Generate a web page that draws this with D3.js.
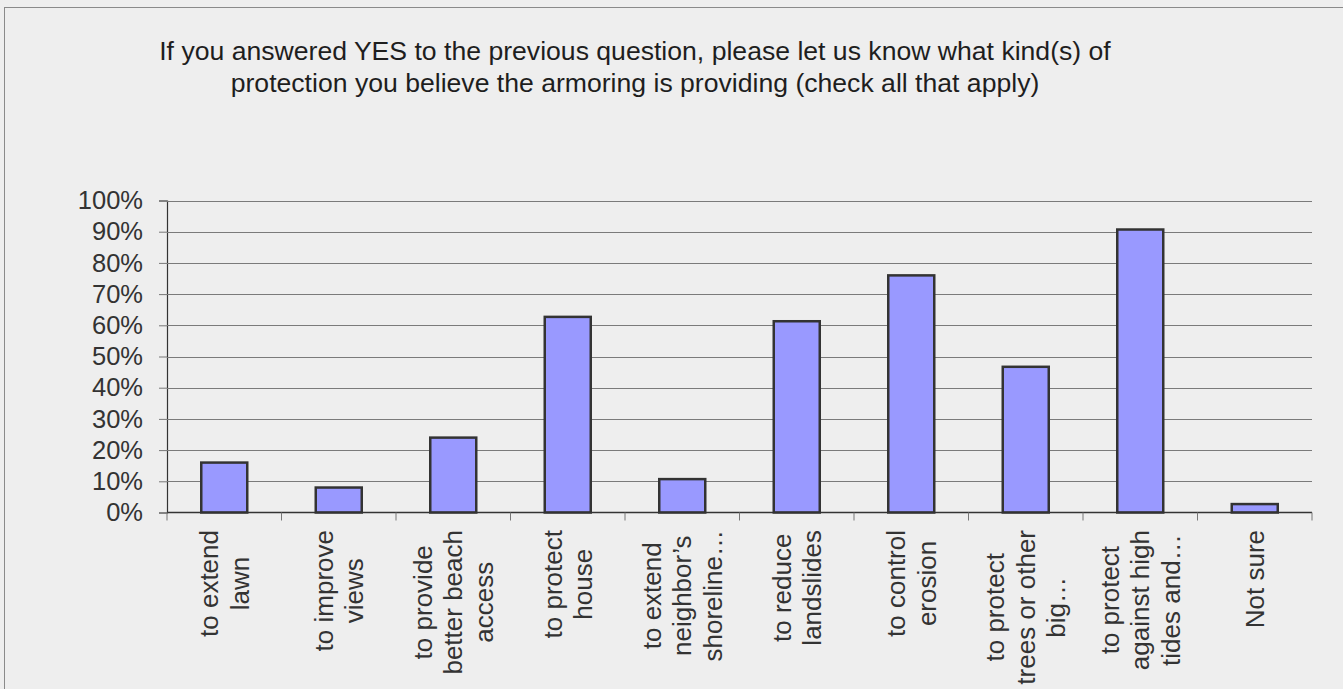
<!DOCTYPE html>
<html>
<head>
<meta charset="utf-8">
<script src="https://cdn.jsdelivr.net/npm/d3@7"></script>
<style>
  html, body { margin: 0; padding: 0; background: #eeeeee; }
  svg { display: block; font-family: "Liberation Sans", Arial, sans-serif; }
</style>
</head>
<body>
<svg id="chart" width="1343" height="689"></svg>
<script>
// Survey responses: share of respondents choosing each kind of protection
const categories = [
  ["to extend", "lawn"],
  ["to improve", "views"],
  ["to provide", "better beach", "access"],
  ["to protect", "house"],
  ["to extend", "neighbor\u2019s", "shoreline\u2026"],
  ["to reduce", "landslides"],
  ["to control", "erosion"],
  ["to protect", "trees or other", "big\u2026"],
  ["to protect", "against high", "tides and\u2026"],
  ["Not sure"]
];
const percentages = [16.0, 8.0, 24.0, 62.7, 10.7, 61.3, 76.0, 46.7, 90.7, 2.7];
const yTicks = [0, 10, 20, 30, 40, 50, 60, 70, 80, 90, 100];
const titleLines = [
  "If you answered YES to the previous question, please let us know what kind(s) of",
  "protection you believe the armoring is providing (check all that apply)"
];

const svg = d3.select("#chart");
const W = 1343, H = 689;

// Frame
svg.append("rect")
  .attr("x", 4.5).attr("y", 7.5)
  .attr("width", W + 10).attr("height", H + 10)
  .attr("fill", "#eeeeee").attr("stroke", "#8a8a8a").attr("stroke-width", 1);

const plot = { left: 167, right: 1312, top: 200.5, bottom: 512.5 };

const x = d3.scaleBand()
  .domain(d3.range(categories.length))
  .range([plot.left, plot.right])
  .paddingInner(0).paddingOuter(0);

const y = d3.scaleLinear()
  .domain([0, 100])
  .range([plot.bottom, plot.top]);

// Title
svg.append("g")
  .selectAll("text")
  .data(titleLines)
  .join("text")
  .attr("x", 635)
  .attr("y", (d, i) => 60 + i * 32)
  .attr("text-anchor", "middle")
  .attr("font-size", 26.6)
  .attr("fill", "#1e1e1e")
  .text(d => d);

// Gridlines + y axis
const yAxis = d3.axisLeft(y)
  .tickValues(yTicks)
  .tickFormat(d => d + "%")
  .tickSize(8)
  .tickPadding(16);

const gy = svg.append("g")
  .attr("transform", `translate(${plot.left},0)`)
  .call(yAxis);
gy.select(".domain").attr("stroke", "#333").attr("stroke-width", 1.2);
gy.selectAll(".tick line").attr("stroke", "#777");
gy.selectAll(".tick text")
  .attr("font-size", 25.5).attr("fill", "#333")
  .attr("font-family", "Liberation Sans, Arial, sans-serif");

svg.append("g")
  .selectAll("line")
  .data(yTicks.filter(d => d > 0))
  .join("line")
  .attr("x1", plot.left).attr("x2", plot.right)
  .attr("y1", d => Math.round(y(d)) + 0.5).attr("y2", d => Math.round(y(d)) + 0.5)
  .attr("stroke", "#7a7a7a").attr("stroke-width", 1);

// Bars
const barW = 46;
svg.append("g")
  .selectAll("rect")
  .data(percentages)
  .join("rect")
  .attr("x", (d, i) => x(i) + x.bandwidth() / 2 - barW / 2)
  .attr("y", d => y(d))
  .attr("width", barW)
  .attr("height", d => y(0) - y(d))
  .attr("fill", "#9999ff")
  .attr("stroke", "#333")
  .attr("stroke-width", 2.5);

// X axis line with category boundary ticks
svg.append("line")
  .attr("x1", plot.left).attr("x2", plot.right)
  .attr("y1", plot.bottom).attr("y2", plot.bottom)
  .attr("stroke", "#333").attr("stroke-width", 1.5);

svg.append("g")
  .selectAll("line")
  .data(d3.range(categories.length + 1))
  .join("line")
  .attr("x1", i => plot.left + i * x.bandwidth())
  .attr("x2", i => plot.left + i * x.bandwidth())
  .attr("y1", plot.bottom).attr("y2", plot.bottom + 8)
  .attr("stroke", "#777").attr("stroke-width", 1);

// Rotated multi-line category labels
const lineGap = 30.5;
const labelTop = 530;
const labels = svg.append("g")
  .selectAll("g")
  .data(categories)
  .join("g");

labels.each(function (lines, i) {
  const g = d3.select(this);
  const t = g.append("text")
    .attr("font-size", 26)
    .attr("fill", "#333")
    .attr("text-anchor", "middle")
    .attr("dominant-baseline", "central");
  const spans = t.selectAll("tspan")
    .data(lines)
    .join("tspan")
    .attr("x", 0)
    .attr("y", (d, k) => (k - (lines.length - 1) / 2) * lineGap)
    .text(d => d);
  let maxLen = 0;
  spans.each(function () { maxLen = Math.max(maxLen, this.getComputedTextLength()); });
  const cx = x(i) + x.bandwidth() / 2;
  t.attr("transform", `translate(${cx},${labelTop + maxLen / 2}) rotate(-90)`);
});
</script>
</body>
</html>
